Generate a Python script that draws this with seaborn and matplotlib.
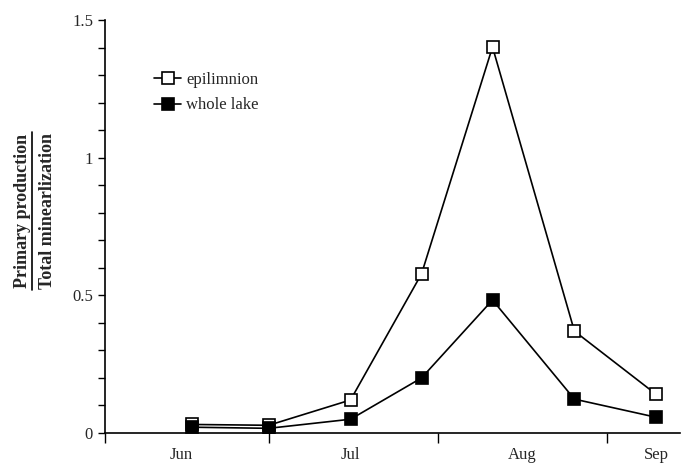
import matplotlib
matplotlib.use('Agg')
import matplotlib.pyplot as plt
from matplotlib.lines import Line2D
from matplotlib.ticker import MultipleLocator, FixedLocator
import seaborn as sns
import pandas as pd

# sampling dates as day of year
days = [168, 182, 197, 210, 223, 238, 253]
epilimnion = [0.031, 0.028, 0.12, 0.578, 1.402, 0.37, 0.14]
whole_lake = [0.021, 0.017, 0.05, 0.20, 0.483, 0.123, 0.057]

month_starts = [152, 182, 213, 244]
month_label_pos = [166, 197, 228.5, 253]
month_labels = ['Jun', 'Jul', 'Aug', 'Sep']

sns.set_style('ticks')
plt.rcParams['font.family'] = ['Liberation Serif', 'DejaVu Serif']

df = pd.DataFrame({'day': days, 'epi': epilimnion, 'whole': whole_lake})

fig = plt.figure(figsize=(6.81, 4.63), dpi=100)
ax = fig.add_axes([0.154, 0.0648, 0.845, 0.892])

sns.lineplot(data=df, x='day', y='epi', ax=ax, color='black', linewidth=1.2,
             marker='s', markersize=8.5, markerfacecolor='white',
             markeredgecolor='black', markeredgewidth=1.2, label='epilimnion')
sns.lineplot(data=df, x='day', y='whole', ax=ax, color='black', linewidth=1.2,
             marker='s', markersize=8.5, markerfacecolor='black',
             markeredgecolor='black', markeredgewidth=1.2, label='whole lake')

ax.set_xlim(152, 257.4)
ax.set_ylim(0, 1.5)
sns.despine(ax=ax)
for s in ['left', 'bottom']:
    ax.spines[s].set_linewidth(1.2)
    ax.spines[s].set_color('black')

ax.yaxis.set_major_locator(FixedLocator([0, 0.5, 1, 1.5]))
ax.set_yticklabels(['0', '0.5', '1', '1.5'], fontsize=12)
ax.yaxis.set_minor_locator(MultipleLocator(0.1))
ax.tick_params(axis='y', which='both', length=5, width=1, color='black', direction='out')

ax.xaxis.set_major_locator(FixedLocator(month_starts))
ax.xaxis.set_minor_locator(FixedLocator(month_label_pos))
ax.set_xticklabels([], minor=False)
ax.set_xticklabels(month_labels, minor=True, fontsize=12)
ax.tick_params(axis='x', which='major', length=7, width=1, color='black', direction='out')
ax.tick_params(axis='x', which='minor', length=0, pad=10)

ax.set_xlabel('')
ax.set_ylabel('')

ax.legend(loc='upper left', bbox_to_anchor=(0.06, 0.91), frameon=False,
          fontsize=12, handlelength=1.6, handletextpad=0.3, labelspacing=0.55)

# two-line y label written as a fraction
fig.text(0.033, 0.544, 'Primary production', rotation=90, ha='center', va='center',
         fontsize=13, fontweight='bold')
fig.text(0.070, 0.544, 'Total minearlization', rotation=90, ha='center', va='center',
         fontsize=13, fontweight='bold')
fig.add_artist(Line2D([0.0465, 0.0465], [0.374, 0.715], transform=fig.transFigure,
                      color='black', linewidth=1.2))

fig.savefig('out.png', dpi=100)
